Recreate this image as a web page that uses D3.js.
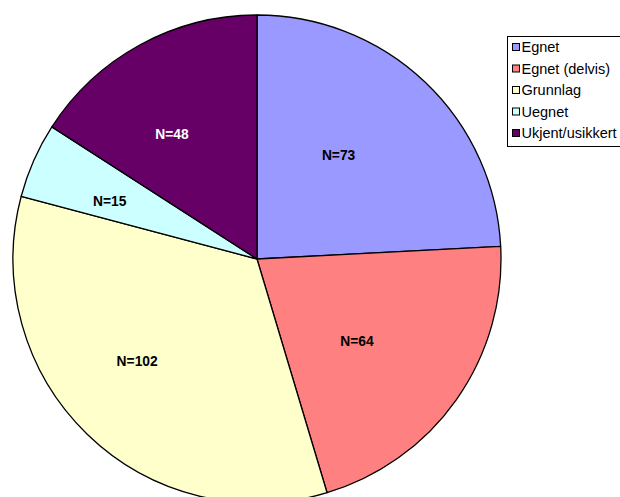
<!DOCTYPE html>
<html>
<head>
<meta charset="utf-8">
<script src="https://cdn.jsdelivr.net/npm/d3@7"></script>
<style>
  html, body { margin: 0; padding: 0; background: #fff; overflow: hidden; }
  svg { display: block; font-family: Arial, "Liberation Sans", sans-serif; }
</style>
</head>
<body>
<svg id="chart" width="620" height="497"></svg>
<script>
// Categories and counts, drawn clockwise from 12 o'clock
const categories = ["Egnet", "Egnet (delvis)", "Grunnlag", "Uegnet", "Ukjent/usikkert"];
const counts = [73, 64, 102, 15, 48];
const colors = ["#9999FF", "#FF8080", "#FFFFCC", "#CCFFFF", "#660066"];
const labelColors = ["#000", "#000", "#000", "#000", "#fff"];

const svg = d3.select("#chart");
const cx = 257, cy = 259, radius = 244;

const data = categories.map((c, i) => ({ name: c, value: counts[i], color: colors[i], labelColor: labelColors[i] }));

const pie = d3.pie().value(d => d.value).sort(null);
const arc = d3.arc().innerRadius(0).outerRadius(radius);
const labelArc = d3.arc().innerRadius(radius * 0.585).outerRadius(radius * 0.585);

const g = svg.append("g").attr("transform", `translate(${cx},${cy})`);
const arcs = pie(data);

g.selectAll("path.slice")
  .data(arcs)
  .join("path")
  .attr("class", "slice")
  .attr("d", arc)
  .attr("fill", d => d.data.color)
  .attr("stroke", "#000")
  .attr("stroke-width", 1.3)
  .attr("stroke-linejoin", "round");

// Value labels: the text ends at the slice's label point
g.selectAll("text.lbl")
  .data(arcs)
  .join("text")
  .attr("class", "lbl")
  .attr("transform", d => `translate(${labelArc.centroid(d)})`)
  .attr("text-anchor", "end")
  .attr("dy", "0.36em")
  .attr("font-size", 13.8)
  .attr("font-weight", "bold")
  .attr("fill", d => d.data.labelColor)
  .text(d => "N=" + d.data.value);

// Legend
const lx = 507, ly = 36, rowH = 21.5;
const legend = svg.append("g");
legend.append("rect")
  .attr("x", lx + 0.5).attr("y", ly + 0.5)
  .attr("width", 130).attr("height", 110)
  .attr("fill", "#fff").attr("stroke", "#000").attr("stroke-width", 1);

const rows = legend.selectAll("g.row")
  .data(data)
  .join("g")
  .attr("class", "row")
  .attr("transform", (d, i) => `translate(${lx + 5},${ly + 11 + i * rowH})`);

rows.append("rect")
  .attr("x", 0.5).attr("y", -3.5)
  .attr("width", 7).attr("height", 7)
  .attr("fill", d => d.color)
  .attr("stroke", "#000").attr("stroke-width", 1);

rows.append("text")
  .attr("x", 9.5).attr("y", 0)
  .attr("dy", "0.36em")
  .attr("font-size", 14.5)
  .attr("fill", "#000")
  .text(d => d.name);
</script>
</body>
</html>
